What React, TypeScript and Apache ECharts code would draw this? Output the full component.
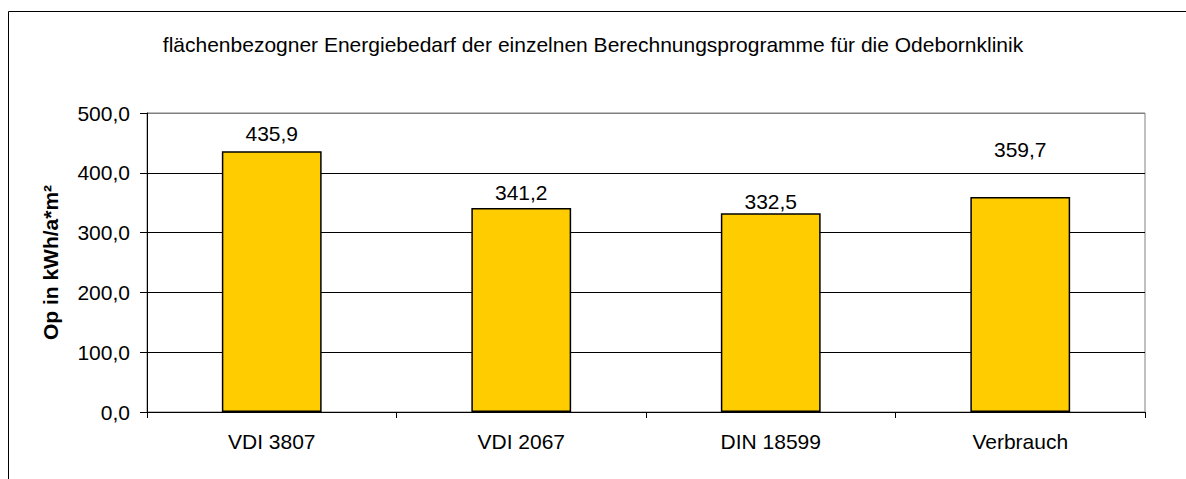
import React, { useEffect, useRef } from "react";
import * as echarts from "echarts";

const titleText =
  "flächenbezogner Energiebedarf der einzelnen Berechnungsprogramme für die Odebornklinik";
const categories = ["VDI 3807", "VDI 2067", "DIN 18599", "Verbrauch"];
const values = [435.9, 341.2, 332.5, 359.7];
const yAxisName = "Op in kWh/a*m²";
const yMin = 0;
const yMax = 500;
const yStep = 100;

const FONT = "'Liberation Sans', Arial, sans-serif";

export default function App() {
  const ref = useRef<HTMLDivElement>(null);
  useEffect(() => {
    document.body.style.margin = "0";
    const chart = echarts.init(ref.current!, null, { renderer: "svg" });
    const labelShift = [-2.5, 0.5, 3.5, -31.5];
    chart.setOption({
      animation: false,
      backgroundColor: "#ffffff",
      textStyle: { fontFamily: FONT },
      title: {
        text: titleText,
        left: "center",
        top: 29,
        textStyle: { fontFamily: FONT, fontSize: 21, fontWeight: "normal", color: "#000" },
      },
      graphic: [
        {
          type: "rect",
          shape: { x: 8.5, y: 11.5, width: 1300, height: 600 },
          style: { fill: "none", stroke: "#000", lineWidth: 1 },
          silent: true,
        },
      ],
      grid: {
        left: 147,
        top: 113,
        right: 41,
        bottom: 67,
        show: true,
        borderColor: "#808080",
        borderWidth: 1,
        containLabel: false,
      },
      xAxis: {
        type: "category",
        data: categories,
        boundaryGap: true,
        axisLine: { show: true, lineStyle: { color: "#000", width: 1 } },
        axisTick: { show: true, length: 6, interval: 0, lineStyle: { color: "#000" } },
        axisLabel: { fontFamily: FONT, fontSize: 21, color: "#000", margin: 19 },
      },
      yAxis: {
        type: "value",
        min: yMin,
        max: yMax,
        interval: yStep,
        name: yAxisName,
        nameLocation: "middle",
        nameGap: 86,
        nameRotate: 90,
        nameTextStyle: { fontFamily: FONT, fontSize: 21, fontWeight: "bold", color: "#000" },
        axisLine: { show: true, lineStyle: { color: "#000", width: 1 } },
        axisTick: { show: true, length: 7, lineStyle: { color: "#000" } },
        axisLabel: {
          fontFamily: FONT,
          fontSize: 21,
          color: "#000",
          margin: 17,
          formatter: (v: number) => v.toFixed(1).replace(".", ","),
        },
        splitLine: {
          show: true,
          lineStyle: { color: ["#000", "#000", "#000", "#000", "#000", "#808080"], width: 1 },
        },
      },
      series: [
        {
          type: "bar",
          barWidth: "40%",
          data: values.map((v, i) => ({
            value: v,
            label: { offset: [0, labelShift[i]] },
          })),
          itemStyle: { color: "#FFCC00", borderColor: "#000", borderWidth: 1.5 },
          label: {
            show: true,
            position: "top",
            distance: 5,
            fontFamily: FONT,
            fontSize: 21,
            color: "#000",
            formatter: (p: any) => Number(p.value).toFixed(1).replace(".", ","),
          },
        },
      ],
    });
    return () => chart.dispose();
  }, []);
  return <div ref={ref} style={{ width: 1186, height: 479 }} />;
}
